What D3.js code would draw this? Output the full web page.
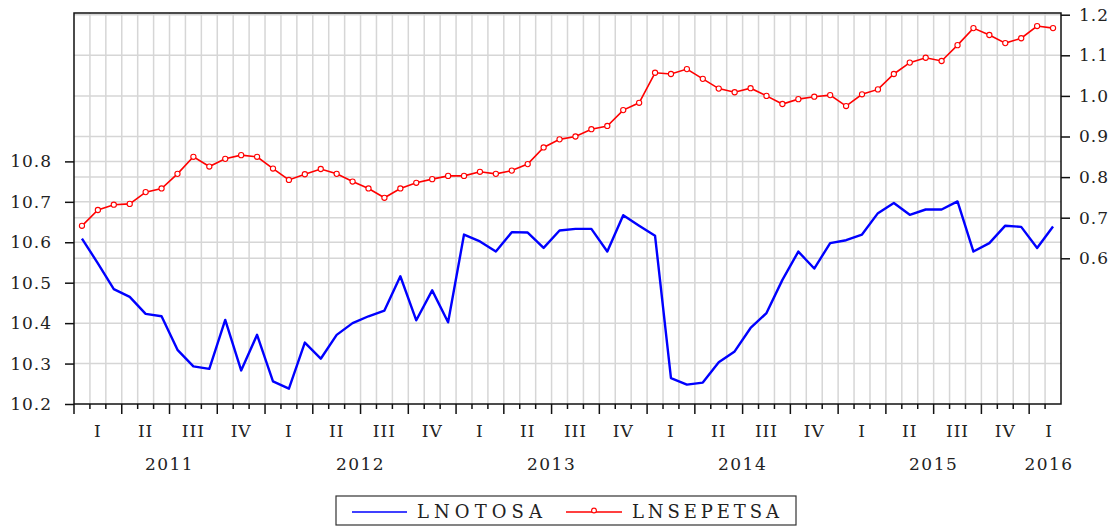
<!DOCTYPE html>
<html>
<head>
<meta charset="utf-8">
<script src="https://cdn.jsdelivr.net/npm/d3@7"></script>
<style>
  body { margin: 0; background: #fff; }
  #chart text { font-family: "DejaVu Serif", serif; fill: #222; }
</style>
</head>
<body>
<div id="chart"></div>
<script>
// monthly observations, 2011M01 .. 2016M02
const startYear = 2011;
const lnotosa = [10.609, 10.548, 10.484, 10.465, 10.423, 10.417, 10.334, 10.293, 10.287, 10.408, 10.283, 10.371,
  10.256, 10.238, 10.352, 10.312, 10.371, 10.400, 10.417, 10.431, 10.516, 10.407, 10.481, 10.402,
  10.619, 10.602, 10.577, 10.625, 10.624, 10.586, 10.629, 10.633, 10.633, 10.577, 10.667, 10.641,
  10.616, 10.264, 10.248, 10.253, 10.303, 10.330, 10.388, 10.425, 10.507, 10.577, 10.535, 10.598,
  10.605, 10.619, 10.672, 10.697, 10.668, 10.681, 10.681, 10.701, 10.577, 10.598, 10.641, 10.638,
  10.586, 10.639];
const lnsepetsa = [0.680, 0.719, 0.732, 0.734, 0.763, 0.772, 0.808, 0.850, 0.826, 0.845, 0.854, 0.850,
  0.821, 0.793, 0.807, 0.820, 0.808, 0.789, 0.772, 0.749, 0.772, 0.786, 0.795, 0.803,
  0.803, 0.813, 0.808, 0.816, 0.832, 0.873, 0.893, 0.900, 0.918, 0.926, 0.965, 0.983,
  1.057, 1.054, 1.066, 1.042, 1.018, 1.009, 1.019, 1.000, 0.980, 0.992, 0.998, 1.002,
  0.975, 1.004, 1.016, 1.054, 1.082, 1.094, 1.086, 1.125, 1.167, 1.150, 1.130, 1.142,
  1.172, 1.167];
const leftTicks = [10.2, 10.3, 10.4, 10.5, 10.6, 10.7, 10.8];
const rightTicks = [0.6, 0.7, 0.8, 0.9, 1.0, 1.1, 1.2];
const quarterNames = ["I", "II", "III", "IV"];
const seriesNames = ["LNOTOSA", "LNSEPETSA"];

const W = 1116, H = 526;
const n = lnotosa.length;
const plot = { left: 74, right: 1061, top: 13, bottom: 404 };

const svg = d3.select("#chart").append("svg")
  .attr("width", W).attr("height", H);

// scales
const x = d3.scaleLinear().domain([0, n]).range([plot.left, plot.right]);
const yL = d3.scaleLinear().domain([10.2, 11.167]).range([plot.bottom, plot.top]);
const yR = d3.scaleLinear().domain([0.2411, 1.2042]).range([plot.bottom, plot.top]);

// grid
const grid = svg.append("g").attr("stroke", "#d6d6d6").attr("stroke-width", 1.5);
grid.selectAll(".vg").data(d3.range(1, n)).enter().append("line")
  .attr("x1", d => x(d)).attr("x2", d => x(d))
  .attr("y1", plot.top).attr("y2", plot.bottom);
grid.selectAll(".hl").data(leftTicks.slice(1)).enter().append("line")
  .attr("x1", plot.left).attr("x2", plot.right)
  .attr("y1", d => yL(d)).attr("y2", d => yL(d));
grid.selectAll(".hr").data(rightTicks).enter().append("line")
  .attr("x1", plot.left).attr("x2", plot.right)
  .attr("y1", d => yR(d)).attr("y2", d => yR(d));

// frame
svg.append("rect")
  .attr("x", plot.left).attr("y", plot.top)
  .attr("width", plot.right - plot.left).attr("height", plot.bottom - plot.top)
  .attr("fill", "none").attr("stroke", "#111").attr("stroke-width", 1.5);

// left axis
const axL = svg.append("g").attr("transform", `translate(${plot.left},0)`)
  .call(d3.axisLeft(yL).tickValues(leftTicks).tickSize(9).tickPadding(13).tickFormat(d3.format(".1f")));
axL.select(".domain").remove();
axL.selectAll("line").attr("stroke", "#111").attr("stroke-width", 1.5);
axL.selectAll("text").style("font-size", "17px").style("letter-spacing", "1px");

// right axis
const axR = svg.append("g").attr("transform", `translate(${plot.right},0)`)
  .call(d3.axisRight(yR).tickValues(rightTicks).tickSize(9).tickPadding(9).tickFormat(d3.format(".1f")));
axR.select(".domain").remove();
axR.selectAll("line").attr("stroke", "#111").attr("stroke-width", 1.5);
axR.selectAll("text").style("font-size", "17px").style("letter-spacing", "1px");

// bottom ticks: months short, quarters long
svg.append("g").selectAll("line").data(d3.range(0, n)).enter().append("line")
  .attr("x1", d => x(d)).attr("x2", d => x(d))
  .attr("y1", plot.bottom).attr("y2", d => plot.bottom + (d % 3 === 0 ? 10 : 5))
  .attr("stroke", "#111").attr("stroke-width", 1.5);

// quarter and year labels
const lastPos = n - 0.75;
const quarters = d3.range(0, Math.ceil(n / 3));
svg.append("g").selectAll("text").data(quarters).enter().append("text")
  .attr("x", q => x(Math.min(q * 3 + 1.5, lastPos)))
  .attr("y", 437)
  .attr("text-anchor", "middle")
  .style("font-size", "17px").style("letter-spacing", "1px")
  .text(q => quarterNames[q % 4]);

const years = d3.range(0, Math.ceil(n / 12));
svg.append("g").selectAll("text").data(years).enter().append("text")
  .attr("x", k => x(Math.min(k * 12 + 6, lastPos)))
  .attr("y", 470)
  .attr("text-anchor", "middle")
  .style("font-size", "17px").style("letter-spacing", "1.5px")
  .text(k => startYear + k);

// series
const lineL = d3.line().x((d, i) => x(i + 0.5)).y(d => yL(d));
const lineR = d3.line().x((d, i) => x(i + 0.5)).y(d => yR(d));

svg.append("path").datum(lnotosa)
  .attr("d", lineL).attr("fill", "none")
  .attr("stroke", "#0000ff").attr("stroke-width", 2.4).attr("stroke-linejoin", "round");

svg.append("path").datum(lnsepetsa)
  .attr("d", lineR).attr("fill", "none")
  .attr("stroke", "#ff0000").attr("stroke-width", 1.6);

svg.append("g").selectAll("circle").data(lnsepetsa).enter().append("circle")
  .attr("cx", (d, i) => x(i + 0.5)).attr("cy", d => yR(d)).attr("r", 2.6)
  .attr("fill", "#fff").attr("stroke", "#ff0000").attr("stroke-width", 1.1);

// legend
const lg = svg.append("g");
lg.append("rect").attr("x", 336).attr("y", 496).attr("width", 460).attr("height", 29)
  .attr("fill", "#fff").attr("stroke", "#333").attr("stroke-width", 1.2);
lg.append("line").attr("x1", 352).attr("x2", 407).attr("y1", 512).attr("y2", 512)
  .attr("stroke", "#0000ff").attr("stroke-width", 1.6);
lg.append("text").attr("x", 417).attr("y", 518).attr("textLength", 125)
  .style("font-size", "18px").text(seriesNames[0]);
lg.append("line").attr("x1", 566).attr("x2", 622).attr("y1", 512).attr("y2", 512)
  .attr("stroke", "#ff0000").attr("stroke-width", 1.6);
lg.append("circle").attr("cx", 594).attr("cy", 510.5).attr("r", 2.4)
  .attr("fill", "#fff").attr("stroke", "#ff0000").attr("stroke-width", 1.1);
lg.append("text").attr("x", 632).attr("y", 518).attr("textLength", 147)
  .style("font-size", "18px").text(seriesNames[1]);
</script>
</body>
</html>
